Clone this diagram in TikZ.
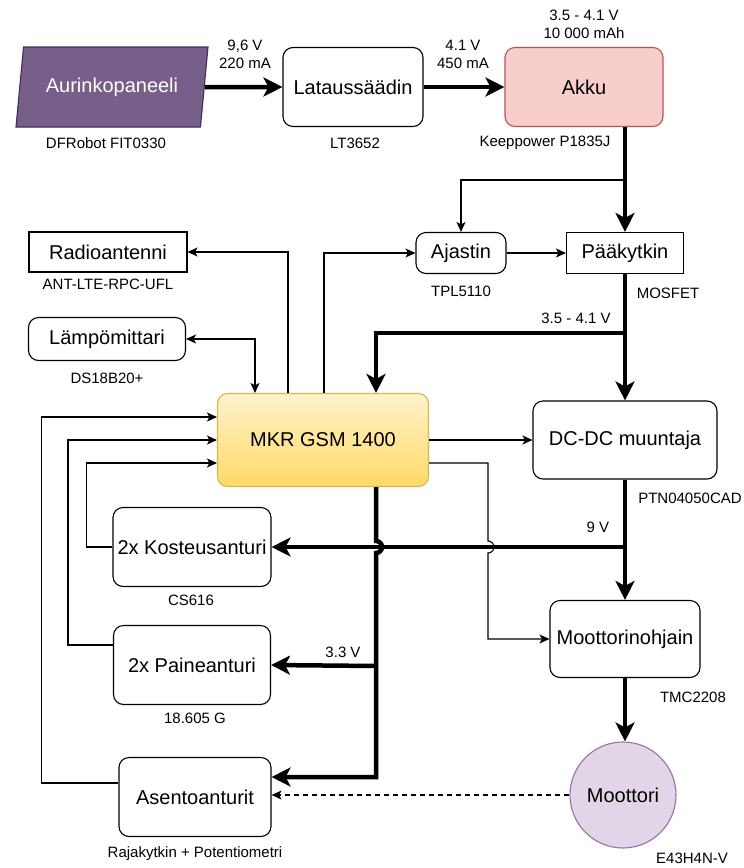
\documentclass[tikz,border=0pt]{standalone}
\usepackage{fontspec}
\setmainfont{Liberation Sans}
\usetikzlibrary{arrows.meta,shapes.geometric}
\definecolor{pvfill}{HTML}{76608A}
\definecolor{pvline}{HTML}{432D57}
\definecolor{akkufill}{HTML}{F8CECC}
\definecolor{akkuline}{HTML}{B85450}
\definecolor{mkrtop}{HTML}{FFF2CC}
\definecolor{mkrbot}{HTML}{FFD966}
\definecolor{mkrline}{HTML}{D6B656}
\definecolor{motfill}{HTML}{E1D5E7}
\definecolor{motline}{HTML}{9673A6}
\tikzset{
  box/.style={draw,line width=1.1pt,font=\fontsize{20}{23}\selectfont,inner sep=0pt},
  rbox/.style={box,rounded corners=10pt},
  lbl/.style={font=\fontsize{15}{18}\selectfont,inner sep=0pt,align=center},
  powerline/.style={line width=4.5pt},
  power/.style={powerline,-{Stealth[length=19pt,width=19pt,inset=5pt]}},
  signal/.style={line width=1.1pt,-{Stealth[length=10pt,width=9pt,inset=2.5pt]}},
  signal2/.style={signal,{Stealth[length=10pt,width=9pt,inset=2.5pt]}-{Stealth[length=10pt,width=9pt,inset=2.5pt]}},
}
\begin{document}
\begin{tikzpicture}[x=1pt,y=-1pt]
\useasboundingbox[fill=white] (0,0) rectangle (744,868);
% top row
\node (pv) at (112,87) [box,trapezium,trapezium left angle=68,trapezium right angle=112,trapezium stretches body,minimum width=192,minimum height=80,fill=pvfill,draw=pvline,text=white] {Aurinkopaneeli};
\node (lat) at (353,87) [rbox,minimum width=140,minimum height=79] {Lataussäädin};
\node (akku) at (584,87) [rbox,minimum width=158,minimum height=79,fill=akkufill,draw=akkuline] {Akku};
\node at (106,143) [lbl] {DFRobot FIT0330};
\node at (355,143) [lbl] {LT3652};
\node at (545,143) [lbl] {Keeppower P1835J};
\node at (245,54) [lbl] {9,6 V\\220 mA};
\node at (463,54) [lbl] {4.1 V\\450 mA};
\node at (584,24) [lbl] {3.5 - 4.1 V\\10 000 mAh};
% switching
\node (ajastin) at (461,253) [rbox,minimum width=90,minimum height=41] {Ajastin};
\node (pk) at (625,253) [box,minimum width=117,minimum height=41] {Pääkytkin};
\node at (461,291) [lbl] {TPL5110};
\node at (668,293) [lbl] {MOSFET};
% peripherals left
\node (radio) at (108,252) [box,minimum width=158,minimum height=40] {Radioantenni};
\node (lampo) at (107,339) [rbox,minimum width=157,minimum height=43] {Lämpömittari};
\node at (108,284) [lbl] {ANT-LTE-RPC-UFL};
\node at (107,378) [lbl] {DS18B20+};
% controller
\node (mkr) at (323,440) [rbox,minimum width=211,minimum height=93,top color=mkrtop,bottom color=mkrbot,draw=mkrline] {MKR GSM 1400};
\node (dcdc) at (625,440) [rbox,minimum width=184,minimum height=78] {DC-DC muuntaja};
\node at (690,498) [lbl] {PTN04050CAD};
% sensors
\node (koste) at (192,547) [rbox,minimum width=158,minimum height=79] {2x Kosteusanturi};
\node (paine) at (192,665) [rbox,minimum width=157,minimum height=79] {2x Paineanturi};
\node (asento) at (195,797) [rbox,minimum width=152,minimum height=79] {Asentoanturit};
\node at (191,600) [lbl] {CS616};
\node at (195,718) [lbl] {18.605 G};
\node at (195,854) [lbl] {Rajakytkin + Potentiometri};
% motor
\node (mohj) at (625,639) [rbox,minimum width=150,minimum height=77] {Moottorinohjain};
\node (moot) at (623,795) [box,ellipse,minimum width=106,minimum height=106,fill=motfill,draw=motline] {Moottori};
\node at (692,858) [lbl] {E43H4N-V};
\node at (693,697) [lbl] {TMC2208};
% voltages
\node at (576,318) [lbl] {3.5 - 4.1 V};
\node at (598,527) [lbl] {9 V};
\node at (343,652) [lbl] {3.3 V};
\coordinate (akkutap) at (625,180);
\coordinate (pktap) at (625,333);
\coordinate (tap9) at (625,547);
\coordinate (tap33) at (376,666);
% power path
\draw[power] (pv) -- (lat);
\draw[power] (lat) -- (akku);
\draw[power] (akku.south -| pk.north) -- (pk.north);
\draw[signal] (akkutap) -| (ajastin.north);
\draw[signal] (ajastin) -- (pk);
\draw[power] (pk) -- (dcdc);
\draw[power] (pktap) -| ([xshift=53]mkr.north);
\draw[power] (dcdc) -- (mohj);
\draw[power] (tap9) -- (koste.east);
\draw[power] (mohj.south) -- (mohj.south |- moot.north);
% controller links
\draw[signal] ([xshift=-35]mkr.north) |- (radio.east);
\draw[signal2] (lampo.east) -| ([xshift=-68]mkr.north);
\draw[signal] ([xshift=1]mkr.north) |- (ajastin.west);
\draw[signal] (mkr) -- (dcdc);
\draw[signal] ([yshift=-23]mkr.east) -| (488,541) arc[start angle=-90,end angle=90,radius=6] |- (mohj.west);
\draw[power] ([xshift=53]mkr.south) -- (376,541) arc[start angle=-90,end angle=90,radius=6] |- ([yshift=20]asento.east);
\draw[power] (tap33) -- (paine.east);
% sensor returns
\draw[signal] ([yshift=14]asento.west) -- ++(-77,0) |- ([yshift=23]mkr.west);
\draw[signal] ([yshift=20]paine.west) -- ++(-45,0) |- (mkr.west);
\draw[signal] (koste.west) -- ++(-26,0) |- ([yshift=-23]mkr.west);
\draw[signal,dash pattern=on 5pt off 4pt] (moot.west) -- (moot.west -| asento.east);
\end{tikzpicture}
\end{document}
